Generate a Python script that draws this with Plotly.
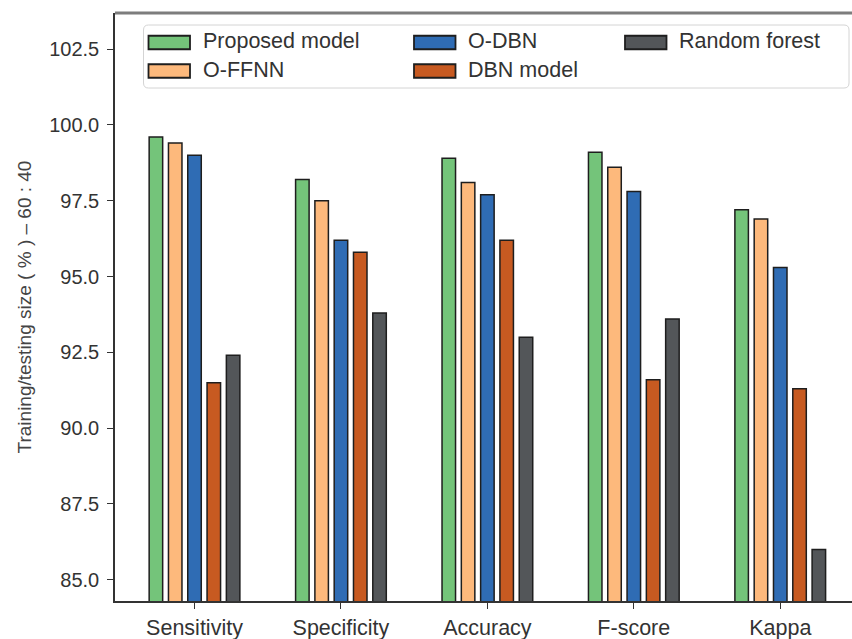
import plotly.graph_objects as go

# ---- data -------------------------------------------------------------
categories = ["Sensitivity", "Specificity", "Accuracy", "F-score", "Kappa"]

proposed_model = [99.6, 98.2, 98.9, 99.1, 97.2]
o_ffnn = [99.4, 97.5, 98.1, 98.6, 96.9]
o_dbn = [99.0, 96.2, 97.7, 97.8, 95.3]
dbn_model = [91.5, 95.8, 96.2, 91.6, 91.3]
random_forest = [92.4, 93.8, 93.0, 93.6, 86.0]

series_names = ["Proposed model", "O-FFNN", "O-DBN", "DBN model", "Random forest"]
series_values = [proposed_model, o_ffnn, o_dbn, dbn_model, random_forest]

y_ticks = [85.0, 87.5, 90.0, 92.5, 95.0, 97.5, 100.0, 102.5]
y_title = "Training/testing size ( % ) \u2013 60 : 40"

# ---- styling ----------------------------------------------------------
series_colors = ["#74c47a", "#fdb97c", "#2f6cb4", "#c75a21", "#535659"]
edge_color = "#1e1e1e"
font_family = "Liberation Sans, Arial, sans-serif"
text_color = "#333333"

W, H = 852, 639
ML, MR, MT, MB = 115, 0, 13, 38
PW, PH = W - ML - MR, H - MT - MB


def px_x(x):
    """pixel column -> paper x"""
    return (x - ML) / PW


def px_y(y):
    """pixel row -> paper y"""
    return (H - MB - y) / PH


fig = go.Figure()
for name, vals, col in zip(series_names, series_values, series_colors):
    fig.add_trace(go.Bar(
        x=categories, y=vals, name=name,
        marker=dict(color=col, line=dict(color=edge_color, width=1.5)),
        showlegend=False,
    ))

shapes = []
annotations = []

# top frame line
shapes.append(dict(type="line", xref="paper", yref="paper", x0=0, x1=1, y0=1, y1=1,
                   line=dict(color="#7d7d7d", width=3), layer="above"))

# legend frame (rounded rectangle)
bx0, bx1, by0, by1, r = 143.5, 849.0, 25.0, 88.0, 5.0
path = (
    f"M{px_x(bx0 + r)},{px_y(by0)} L{px_x(bx1 - r)},{px_y(by0)} "
    f"Q{px_x(bx1)},{px_y(by0)} {px_x(bx1)},{px_y(by0 + r)} "
    f"L{px_x(bx1)},{px_y(by1 - r)} "
    f"Q{px_x(bx1)},{px_y(by1)} {px_x(bx1 - r)},{px_y(by1)} "
    f"L{px_x(bx0 + r)},{px_y(by1)} "
    f"Q{px_x(bx0)},{px_y(by1)} {px_x(bx0)},{px_y(by1 - r)} "
    f"L{px_x(bx0)},{px_y(by0 + r)} "
    f"Q{px_x(bx0)},{px_y(by0)} {px_x(bx0 + r)},{px_y(by0)} Z"
)
shapes.append(dict(type="path", xref="paper", yref="paper", path=path,
                   line=dict(color="#d4d4d4", width=1), fillcolor="white", layer="above"))

# legend entries, filled column by column (two rows)
col_swatch_x = [148.5, 414.0, 625.0]
swatch_w = 41.5
row_center_y = [42.5, 71.0]
swatch_h = 13.5
text_gap = 10.5
for i, (name, col) in enumerate(zip(series_names, series_colors)):
    c, rw = i // 2, i % 2
    sx = col_swatch_x[c]
    cy = row_center_y[rw]
    shapes.append(dict(type="rect", xref="paper", yref="paper",
                       x0=px_x(sx), x1=px_x(sx + swatch_w),
                       y0=px_y(cy - swatch_h / 2), y1=px_y(cy + swatch_h / 2),
                       fillcolor=col, line=dict(color=edge_color, width=1.8), layer="above"))
    annotations.append(dict(xref="paper", yref="paper", x=px_x(sx + swatch_w + text_gap),
                            y=px_y(cy - 1), text=name, showarrow=False,
                            xanchor="left", yanchor="middle",
                            font=dict(family=font_family, size=21.5, color=text_color)))

fig.update_layout(
    width=W, height=H,
    margin=dict(l=ML, r=MR, t=MT, b=MB, pad=0),
    paper_bgcolor="white", plot_bgcolor="white",
    barmode="group", bargap=0.341, bargroupgap=0.3,
    font=dict(family=font_family, color=text_color),
    shapes=shapes, annotations=annotations,
    showlegend=False,
)

fig.update_xaxes(
    type="category", range=[-0.543, 4.49],
    showline=True, linecolor="#333333", linewidth=1.5,
    ticks="outside", ticklen=6, tickwidth=1.2, tickcolor="#333333",
    tickfont=dict(family=font_family, size=21.5, color=text_color),
    ticklabelstandoff=0,
    showgrid=False, zeroline=False, automargin=False,
)
fig.update_yaxes(
    range=[84.30, 103.69],
    tickvals=y_ticks, ticktext=[f"{v:.1f}" for v in y_ticks],
    showline=True, linecolor="#333333", linewidth=1.5,
    ticks="outside", ticklen=6, tickwidth=1.2, tickcolor="#333333",
    tickfont=dict(family=font_family, size=20, color=text_color),
    ticklabelstandoff=4,
    title=dict(text=y_title, standoff=13,
               font=dict(family=font_family, size=19, color="#444444")),
    showgrid=False, zeroline=False, automargin=False,
)

fig.write_html("out.html")
